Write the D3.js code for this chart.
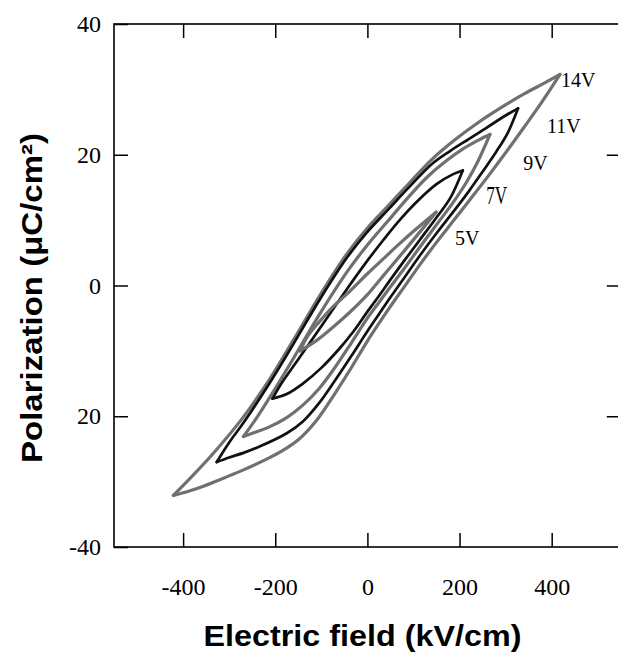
<!DOCTYPE html>
<html>
<head>
<meta charset="utf-8">
<script src="https://cdn.jsdelivr.net/npm/d3@7"></script>
<style>
  html, body { margin: 0; padding: 0; background: #fff; }
  svg { display: block; }
  .tick text { font-family: 'Liberation Serif', 'Times New Roman', serif !important; font-size: 24px !important; }
</style>
</head>
<body>
<svg id="chart" width="618" height="655"></svg>
<script>
// ---------------- data (E in kV/cm, P in uC/cm^2) ----------------
const xTicks = [-400, -200, 0, 200, 400];
const xTickLabels = ["-400", "-200", "0", "200", "400"];
const yTicks = [40, 20, 0, -20, -40];
const yTickLabels = ["40", "20", "0", "20", "-40"];

const loopNames = ["14V", "11V", "9V", "7V", "5V"];
const loopColors = ["#707070", "#111111", "#707070", "#111111", "#707070"];

// upper branches (field decreasing, + tip -> - tip)
const up14 = [[418,32.3],[385,31.0],[340,29.3],[290,27.2],[240,24.9],[190,22.3],[140,19.3],[90,15.6],[45,12.2],[0,8.8],[-45,4.8],[-103,-1.5],[-161,-8.4],[-211,-14.2],[-269,-20.1],[-341,-26.2],[-385,-29.5],[-421,-32.1]];
const up11 = [[327,27.1],[300,26.0],[260,24.2],[220,22.4],[180,20.6],[140,18.6],[90,15.0],[45,11.6],[0,8.2],[-45,4.2],[-103,-2.1],[-161,-9.0],[-211,-14.8],[-269,-21.0],[-300,-24.0],[-327,-27.0]];
const up9  = [[266,23.1],[240,22.2],[210,21.0],[170,19.0],[130,16.6],[90,13.6],[45,9.9],[0,6.2],[-45,2.0],[-103,-4.3],[-161,-11.2],[-211,-17.0],[-240,-20.2],[-269,-23.1]];
const up7  = [[207,17.6],[185,17.0],[150,15.5],[110,13.0],[70,10.0],[35,7.0],[0,3.8],[-45,-0.6],[-96,-5.8],[-153,-11.6],[-185,-14.8],[-206,-17.3]];
const up5  = [[149,11.2],[125,9.8],[100,8.3],[65,6.1],[35,4.1],[0,1.8],[-40,-1.0],[-74,-3.2],[-105,-5.6],[-130,-7.8],[-146,-10.0]];

// lower branches (field increasing, - tip -> + tip)
const lo14 = [[-421,-32.1],[-385,-31.4],[-356,-30.7],[-310,-29.4],[-269,-28.2],[-220,-26.6],[-185,-25.3],[-150,-23.6],[-110,-20.6],[-73,-16.8],[-36,-12.7],[0,-8.5],[25,-5.8],[50,-3.2],[80,-0.2],[114,3.2],[150,6.6],[190,10.2],[230,13.8],[265,17.0],[300,20.3],[340,24.2],[380,28.2],[418,32.3]];
const lo11 = [[-327,-27.0],[-300,-26.3],[-269,-25.6],[-233,-24.6],[-175,-22.6],[-140,-20.8],[-105,-18.0],[-70,-14.5],[-35,-10.8],[0,-7.0],[25,-4.4],[50,-1.8],[80,1.2],[114,4.6],[150,8.0],[190,11.6],[220,14.4],[250,17.4],[280,20.5],[305,23.4],[327,27.1]];
const lo9  = [[-269,-23.1],[-245,-22.5],[-215,-21.7],[-175,-20.2],[-140,-18.3],[-105,-15.8],[-70,-12.5],[-35,-8.8],[0,-5.0],[25,-2.6],[50,-0.2],[80,2.6],[114,5.9],[150,9.3],[185,12.6],[215,15.8],[240,19.0],[266,23.1]];
const lo7  = [[-206,-17.3],[-175,-16.6],[-140,-15.0],[-100,-12.6],[-60,-9.6],[-30,-7.0],[0,-4.0],[25,-1.6],[50,0.9],[80,3.8],[114,7.0],[150,10.4],[180,13.4],[207,17.6]];
const lo5  = [[-146,-10.0],[-110,-8.4],[-75,-6.4],[-40,-4.2],[-15,-2.5],[0,-1.4],[25,0.7],[50,2.8],[80,5.3],[114,8.2],[149,11.2]];

const upperBranches = [up14, up11, up9, up7, up5];
const lowerBranches = [lo14, lo11, lo9, lo7, lo5];

// label anchors (E, P)
const labelE = [420, 390, 338, 258, 190];
const labelP = [30.4, 23.3, 17.6, 12.4, 6.2];

// ---------------- drawing ----------------
const svg = d3.select("#chart");
const L = 114, T = 24, R = 620.8, B = 547;

const x = d3.scaleLinear().domain([-550, 550]).range([L, R]);
const y = d3.scaleLinear().domain([-40, 40]).range([B, T]);

const line = d3.line().x(d => x(d[0])).y(d => y(d[1])).curve(d3.curveCatmullRom.alpha(0.5));

const loops = svg.append("g");
loopNames.forEach((name, i) => {
  [upperBranches[i], lowerBranches[i]].forEach(br => {
    loops.append("path")
      .attr("d", line(br))
      .attr("fill", "none")
      .attr("stroke", loopColors[i])
      .attr("stroke-width", i % 2 ? 2.7 : 3.2)
      .attr("stroke-linejoin", "round")
      .attr("stroke-linecap", "round");
  });
});

// frame
svg.append("rect")
  .attr("x", L).attr("y", T).attr("width", R - L).attr("height", B - T)
  .attr("fill", "none").attr("stroke", "#000").attr("stroke-width", 1.6);

const tickFont = "'Liberation Serif', 'Times New Roman', serif";

function styleAxis(g) {
  g.attr("font-family", tickFont).attr("font-size", 24);
  g.select(".domain").remove();
  g.selectAll(".tick line").attr("stroke", "#000").attr("stroke-width", 1.5);
  g.selectAll(".tick text").attr("fill", "#000")
    .attr("font-family", tickFont).attr("font-size", 24);
}

svg.append("g").attr("transform", `translate(${L},0)`)
  .call(d3.axisLeft(y).tickValues(yTicks).tickFormat((d, i) => yTickLabels[i])
    .tickSizeInner(-14).tickSizeOuter(0).tickPadding(13))
  .call(styleAxis);

svg.append("g").attr("transform", `translate(0,${B})`)
  .call(d3.axisBottom(x).tickValues(xTicks).tickFormat((d, i) => xTickLabels[i])
    .tickSizeInner(-14).tickSizeOuter(0).tickPadding(31))
  .call(styleAxis);

svg.append("g").attr("transform", `translate(0,${T})`)
  .call(d3.axisTop(x).tickValues(xTicks).tickFormat("")
    .tickSizeInner(-14).tickSizeOuter(0))
  .call(styleAxis);

svg.append("g").attr("transform", `translate(${R},0)`)
  .call(d3.axisRight(y).tickValues([20, 0, -20]).tickFormat("")
    .tickSizeInner(-14).tickSizeOuter(0))
  .call(styleAxis);

// curve labels
loopNames.forEach((name, i) => {
  const t = svg.append("text")
    .attr("x", x(labelE[i])).attr("y", y(labelP[i]))
    .attr("fill", "#000")
    .style("font-family", tickFont)
    .style("font-size", name === "7V" ? "25px" : "20px")
    .text(name);
  if (name === "7V") t.attr("textLength", 21).attr("lengthAdjust", "spacingAndGlyphs");
});

// axis titles
const titleFont = "'Liberation Sans', Arial, Helvetica, sans-serif";
svg.append("text")
  .attr("x", 362.5).attr("y", 646)
  .attr("text-anchor", "middle")
  .attr("textLength", 318).attr("lengthAdjust", "spacingAndGlyphs")
  .style("font-family", titleFont).style("font-weight", "bold").style("font-size", "29px")
  .text("Electric field (kV/cm)");

svg.append("text")
  .attr("transform", "translate(42,298) rotate(-90)")
  .attr("text-anchor", "middle")
  .attr("textLength", 330).attr("lengthAdjust", "spacingAndGlyphs")
  .style("font-family", titleFont).style("font-weight", "bold").style("font-size", "29px")
  .text("Polarization (μC/cm²)");
</script>
</body>
</html>
